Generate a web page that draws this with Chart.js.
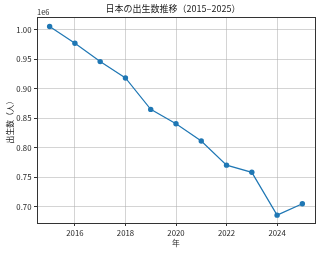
<!DOCTYPE html>
<html>
<head>
<meta charset="utf-8">
<script src="https://cdn.jsdelivr.net/npm/chart.js@4"></script>
<style>
  html, body { margin: 0; padding: 0; background: #fff; }
  #wrap { width: 320px; height: 254px; }
</style>
</head>
<body>
<div id="wrap"><canvas id="birthChart"></canvas></div>
<script>
// data
const years = [2015, 2016, 2017, 2018, 2019, 2020, 2021, 2022, 2023, 2024, 2025];
const births = [1005721, 977242, 946146, 918400, 865239, 840835, 811622, 770759, 758631, 686061, 705500];
const xTicks = [2016, 2018, 2020, 2022, 2024];
const yTicks = [700000, 750000, 800000, 850000, 900000, 950000, 1000000];
const chartTitle = '日本の出生数推移（2015–2025）';

const fontFamily = '"Noto Sans CJK JP", "DejaVu Sans", sans-serif';
Chart.defaults.font.family = fontFamily;
Chart.defaults.font.size = 7.8;
Chart.defaults.color = '#262626';

const lineColor = '#1f77b4';
const gridColor = 'rgba(176, 176, 176, 0.55)';

// frame round the plot, title over the plot and the "1e6" offset label, matplotlib style
const framePlugin = {
  id: 'frame',
  afterDraw(chart) {
    const { ctx, chartArea: a } = chart;
    ctx.save();
    ctx.strokeStyle = '#333';
    ctx.lineWidth = 1;
    ctx.strokeRect(Math.round(a.left) + 0.5, Math.round(a.top) + 0.5,
      Math.round(a.right - a.left), Math.round(a.bottom - a.top));
    ctx.fillStyle = '#262626';
    ctx.font = '7.5px ' + fontFamily;
    ctx.textAlign = 'left';
    ctx.textBaseline = 'bottom';
    ctx.fillText('1e6', a.left, a.top - 1);
    ctx.fillStyle = '#1a1a1a';
    ctx.font = '9px ' + fontFamily;
    ctx.textAlign = 'center';
    ctx.textBaseline = 'middle';
    ctx.fillText(chartTitle, (a.left + a.right) / 2 - 3, 8.5);
    ctx.restore();
  }
};

const ctx = document.getElementById('birthChart').getContext('2d');
new Chart(ctx, {
  type: 'line',
  data: {
    datasets: [{
      label: '出生数',
      data: years.map((y, i) => ({ x: y, y: births[i] })),
      borderColor: lineColor,
      backgroundColor: lineColor,
      borderWidth: 1.2,
      pointRadius: 2.7,
      pointHoverRadius: 2.7,
      pointBorderWidth: 0,
      tension: 0,
      fill: false
    }]
  },
  options: {
    responsive: true,
    maintainAspectRatio: false,
    animation: false,
    layout: { padding: { left: 0, right: 5, top: 17, bottom: 0 } },
    scales: {
      x: {
        type: 'linear',
        min: 2014.5,
        max: 2025.5,
        afterBuildTicks(scale) { scale.ticks = xTicks.map(v => ({ value: v })); },
        afterFit(scale) { scale.height = 31; },
        ticks: {
          padding: 2,
          maxRotation: 0,
          callback: v => String(v)
        },
        grid: { color: gridColor, lineWidth: 1, tickColor: '#333', tickLength: 3 },
        border: { display: false },
        title: { display: true, text: '年', padding: { top: 0, bottom: 6 } }
      },
      y: {
        type: 'linear',
        min: 672800,
        max: 1021700,
        afterBuildTicks(scale) { scale.ticks = yTicks.map(v => ({ value: v })); },
        afterFit(scale) { scale.width = 37; },
        ticks: {
          padding: 2.5,
          callback: v => (v / 1e6).toFixed(2)
        },
        grid: { color: gridColor, lineWidth: 1, tickColor: '#333', tickLength: 3 },
        border: { display: false },
        title: { display: true, text: '出生数（人）', padding: { top: 5, bottom: 0 } }
      }
    },
    plugins: {
      legend: { display: false },
      tooltip: { enabled: false },
      title: { display: false }
    }
  },
  plugins: [framePlugin]
});
</script>
</body>
</html>
